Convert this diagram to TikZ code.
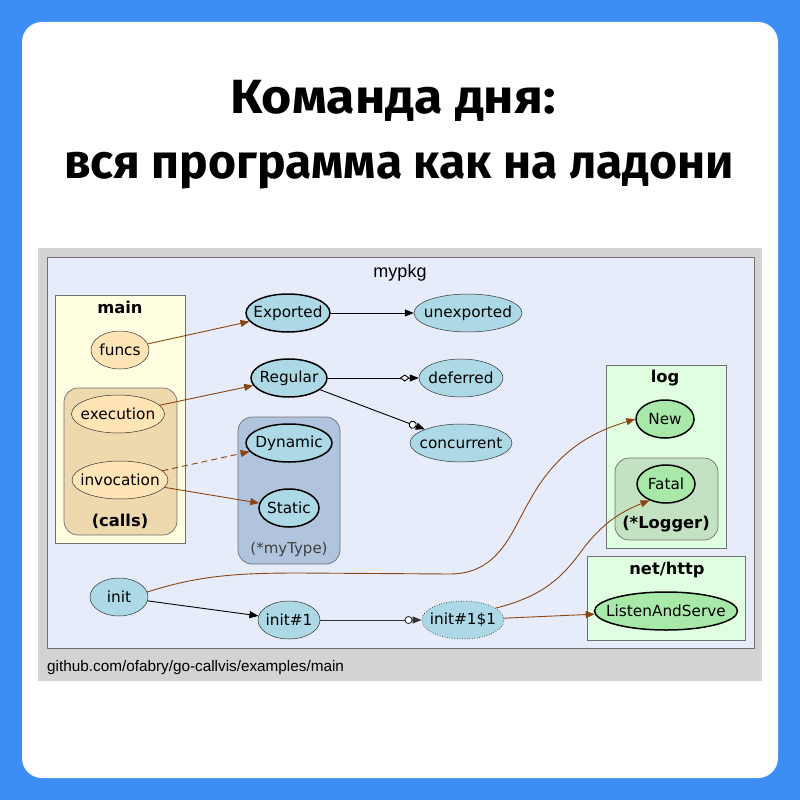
\documentclass[tikz,border=0pt]{standalone}
\usepackage{fontspec}
\setmainfont{DejaVu Sans}
\newfontfamily\titlefont{Fira Sans}
\newfontfamily\arialfont{Liberation Sans}
\usetikzlibrary{shapes.geometric,arrows.meta}
\definecolor{bgblue}{HTML}{3D8EF4}
\definecolor{framegray}{HTML}{D3D3D3}
\definecolor{pkgfill}{HTML}{E6ECFA}
\definecolor{mainfill}{HTML}{FFFEE0}
\definecolor{callsfill}{HTML}{EED8AE}
\definecolor{funcfill}{HTML}{FFE4B5}
\definecolor{lblue}{HTML}{ADD8E6}
\definecolor{typefill}{HTML}{B0C4DE}
\definecolor{logfill}{HTML}{E0FFE0}
\definecolor{loggerfill}{HTML}{C2E2C2}
\definecolor{gfill}{HTML}{A8E8A8}
\definecolor{brownedge}{HTML}{8B4513}
\definecolor{bordergray}{HTML}{707070}
\newcommand\zc[1]{\makebox[0pt]{#1}}
\tikzset{
  fn/.style={ellipse, draw=black!80, line width=0.5pt, inner sep=0pt, minimum height=38pt, font=\fontsize{15.3}{17}\selectfont},
  fnthick/.style={fn, draw=black, line width=1.5pt},
  cluster/.style={draw=bordergray, line width=0.7pt},
  clabel/.style={font=\bfseries\fontsize{16.3}{18}\selectfont},
  titletext/.style={font=\titlefont\bfseries\fontsize{48}{52}\selectfont, anchor=base, inner sep=0pt},
  callb/.style={draw=brownedge, line width=0.9pt, -{Triangle[length=9pt,width=7pt]}},
  callk/.style={draw=black, line width=0.9pt, -{Triangle[length=9pt,width=7pt]}},
}
\begin{document}
\begin{tikzpicture}[x=1pt,y=-1pt]
\useasboundingbox (0,0) rectangle (800,800);
\fill[bgblue] (0,0) rectangle (800,800);
\fill[white, rounded corners=20pt] (22,22) rectangle (778,778);
\node[titletext] (t1) at (393,113) {\scalebox{1.08}[1]{Команда дня:}};
\node[titletext] (t2) at (399,178) {вся программа как на ладони};
% diagram frame
\fill[framegray] (38,248) rectangle (762,681);
\draw[fill=pkgfill, draw=bordergray, line width=0.7pt] (47,257) rectangle (754,648);
\node[font=\arialfont\fontsize{18}{20}\selectfont, anchor=base, inner sep=0pt] (pkglabel) at (400,277) {mypkg};
\node[font=\arialfont\fontsize{15.3}{17}\selectfont, anchor=base west, inner sep=0pt] (footer) at (47,671) {github.com/ofabry/go-callvis/examples/main};
% clusters
\draw[cluster, fill=mainfill] (55,295) rectangle (185,543);
\node[clabel] (mainl) at (120,307) {main};
\draw[cluster, fill=callsfill, rounded corners=14pt] (64,388) rectangle (177,535);
\node[clabel] (callsl) at (120,521) {(calls)};
\draw[cluster, fill=typefill, rounded corners=14pt] (238,417) rectangle (340,564);
\node[font=\fontsize{15}{17}\selectfont, text=black!75] (typel) at (289,549) {(*myType)};
\draw[cluster, fill=logfill] (606,365) rectangle (726,548);
\node[clabel] (logl) at (665,378) {log};
\draw[cluster, fill=loggerfill, rounded corners=14pt] (615,458) rectangle (718,540);
\node[clabel] (loggerl) at (666,524) {(*Logger)};
\draw[cluster, fill=logfill] (587,556) rectangle (745,640);
\node[clabel] (httpl) at (667,570) {net/http};
% nodes
\node[fn, fill=funcfill, minimum width=58pt] (funcs) at (120,350) {\zc{funcs}};
\node[fn, fill=funcfill, minimum width=93pt] (execution) at (118,414) {\zc{execution}};
\node[fn, fill=funcfill, minimum width=96pt] (invocation) at (120,480) {\zc{invocation}};
\node[fnthick, fill=lblue, minimum width=84pt] (exported) at (288,313) {\zc{Exported}};
\node[fn, fill=lblue, minimum width=108pt] (unexported) at (468,313) {\zc{unexported}};
\node[fnthick, fill=lblue, minimum width=76pt] (regular) at (289,378) {\zc{Regular}};
\node[fn, fill=lblue, minimum width=84pt] (deferred) at (461,378) {\zc{deferred}};
\node[fn, fill=lblue, minimum width=102pt] (concurrent) at (461,443) {\zc{concurrent}};
\node[fnthick, fill=lblue, minimum width=86pt] (dynamic) at (289,443) {\zc{Dynamic}};
\node[fnthick, fill=lblue, minimum width=60pt] (static) at (289,508) {\zc{Static}};
\node[fn, fill=lblue, minimum width=58pt] (init) at (119,597) {\zc{init}};
\node[fn, fill=lblue, minimum width=62pt] (initA) at (289,620) {\zc{init\#1}};
\node[fn, fill=lblue, minimum width=82pt, dotted, line width=1pt] (initB) at (463,620) {\zc{init\#1\$1}};
\node[fnthick, fill=gfill, minimum width=58pt] (new) at (665,419) {\zc{New}};
\node[fnthick, fill=gfill, minimum width=58pt] (fatal) at (666,484) {\zc{Fatal}};
\node[fnthick, fill=gfill, minimum width=143pt] (listen) at (666,611) {\zc{ListenAndServe}};
% edges
\draw[callb] (funcs) -- (exported);
\draw[callb] (execution) -- (regular);
\draw[callb, dash pattern=on 6pt off 4pt] (invocation) -- (dynamic);
\draw[callb] (invocation) -- (static);
\draw[callk] (exported) -- (unexported);
\draw[draw=black, line width=0.9pt, -{Diamond[open,fill=white,length=10pt,width=7pt] Triangle[length=9pt,width=7pt]}] (regular) -- (deferred);
\draw[draw=black, line width=0.9pt, -{Circle[open,fill=white,length=8pt] Triangle[length=9pt,width=7pt]}] (regular) -- (concurrent);
\draw[callk] (init) -- (initA);
\draw[draw=black!80, line width=0.9pt, -{Circle[open,fill=white,length=8pt] Triangle[length=9pt,width=7pt]}] (initA) -- (initB);
\draw[callb] (init.10) .. controls (200,575) and (240,573) .. (300,573) -- (450,574) .. controls (500,574) and (512,530) .. (530,500) .. controls (560,445) and (600,430) .. (new.west);
\draw[callb] (initB.20) .. controls (540,597) and (560,580) .. (580,553) .. controls (600,525) and (620,512) .. (fatal.225);
\draw[callb] (initB) -- (listen);
\end{tikzpicture}
\end{document}
